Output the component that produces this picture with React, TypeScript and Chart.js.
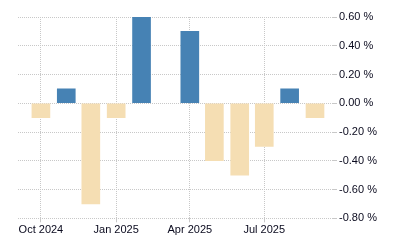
import React, { useEffect, useRef } from "react";
import { Chart, registerables } from "chart.js";

Chart.register(...registerables);

// Monthly change (%) — first day of each month
const months = ["2024-10", "2024-11", "2024-12", "2025-01", "2025-02", "2025-03", "2025-04", "2025-05", "2025-06", "2025-07", "2025-08", "2025-09"];
const values = [-0.1, 0.1, -0.7, -0.1, 0.6, 0.0, 0.5, -0.4, -0.5, -0.3, 0.1, -0.1];

const xTickMonths = ["2024-10", "2025-01", "2025-04", "2025-07"];
const xTickLabels = ["Oct 2024", "Jan 2025", "Apr 2025", "Jul 2025"];
const yTickValues = [0.6, 0.4, 0.2, 0.0, -0.2, -0.4, -0.6, -0.8];

const POS_COLOR = "#4682B4";
const NEG_COLOR = "#F5DEB3";

const ORIGIN = Date.UTC(2024, 9, 1);
const DAY = 86400000;
const toDay = (m: string) => {
  const [y, mo] = m.split("-").map(Number);
  return Math.round((Date.UTC(y, mo - 1, 1) - ORIGIN) / DAY);
};

export default function App() {
  const ref = useRef<HTMLCanvasElement>(null);

  useEffect(() => {
    document.body.style.margin = "0";
    const ctx = ref.current!;
    const points = months.map((m, i) => ({ x: toDay(m), y: values[i] }));
    const tickDays = xTickMonths.map(toDay);
    const font = { family: "'Liberation Sans', Arial, sans-serif", size: 11 };
    const chart = new Chart(ctx, {
      type: "bar",
      data: {
        datasets: [
          {
            data: points,
            backgroundColor: values.map((v) => (v > 0 ? POS_COLOR : v < 0 ? NEG_COLOR : "rgba(0,0,0,0)")),
            barThickness: 18,
            borderWidth: 0,
          },
        ],
      },
      options: {
        animation: false,
        responsive: true,
        maintainAspectRatio: false,
        layout: { padding: { left: 18, top: 17, right: 0, bottom: 0 } },
        plugins: { legend: { display: false }, tooltip: { enabled: false } },
        scales: {
          x: {
            type: "linear",
            offset: false,
            min: -28,
            max: 357,
            afterBuildTicks: (s: any) => {
              s.ticks = tickDays.map((v) => ({ value: v }));
            },
            afterFit: (s: any) => {
              s.height = 31.7;
            },
            ticks: {
              autoSkip: false,
              maxRotation: 0,
              padding: 1,
              color: "#0a0a1e",
              font,
              callback: (v: any) => {
                const i = tickDays.indexOf(Number(v));
                return i >= 0 ? xTickLabels[i] : "";
              },
            },
            grid: { offset: false, color: "#c8c8c8", lineWidth: 1, tickLength: 4 },
            border: { display: false, dash: [1, 1] },
          },
          y: {
            position: "right",
            min: -0.8,
            max: 0.6,
            afterBuildTicks: (s: any) => {
              s.ticks = yTickValues.map((v) => ({ value: v }));
            },
            afterFit: (s: any) => {
              s.width = 67;
            },
            ticks: {
              padding: 2,
              color: "#0a0a1e",
              font,
              callback: (v: any) => Number(v).toFixed(2) + " %",
            },
            grid: { color: "#c8c8c8", lineWidth: 1, tickLength: 4 },
            border: { display: false, dash: [1, 1] },
          },
        },
      },
    });
    return () => chart.destroy();
  }, []);

  return (
    <div style={{ position: "absolute", left: 0, top: 0, width: 400, height: 250 }}>
      <canvas ref={ref} />
    </div>
  );
}
